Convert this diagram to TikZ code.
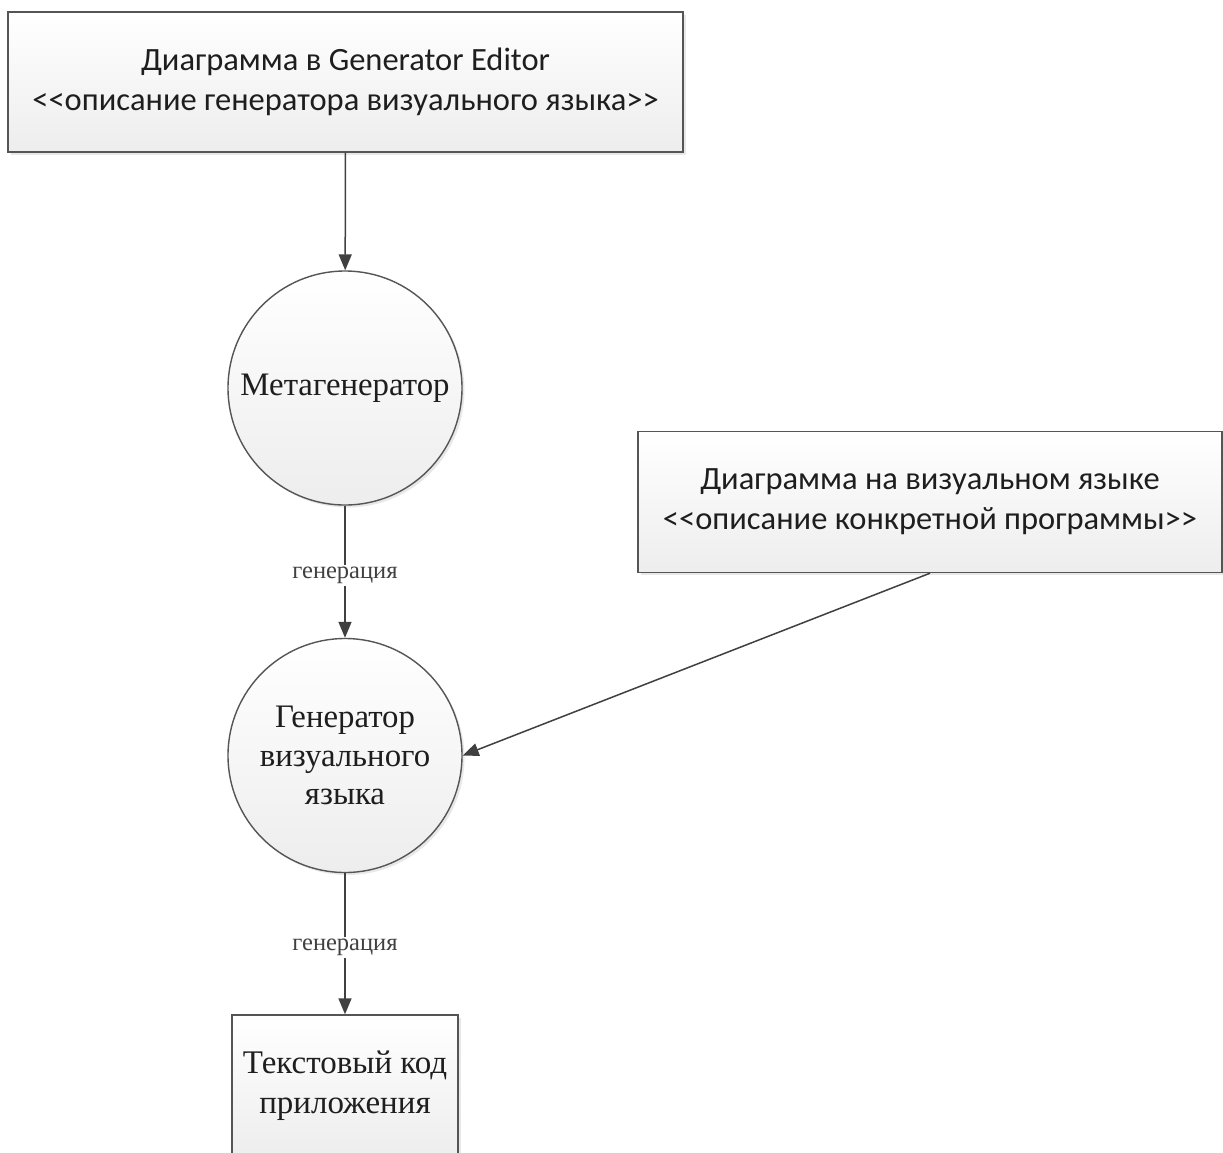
\documentclass[tikz,border=0pt]{standalone}
\usepackage{fontspec}
\setmainfont{Liberation Serif}
\newfontfamily\boxfont{Carlito}
\usetikzlibrary{arrows.meta,shadows}
\definecolor{linec}{HTML}{404040}
\definecolor{edgec}{HTML}{555555}
\definecolor{textc}{HTML}{1E1E1E}
\begin{document}
\begin{tikzpicture}[x=1pt,y=-1pt,
  shapebase/.style={draw=edgec, line width=1.4pt, top color=white, bottom color=black!7,
    drop shadow={opacity=0.18, shadow xshift=2.5pt, shadow yshift=-2.5pt},
    text=textc, align=center, inner sep=0pt},
  procbox/.style={shapebase, rectangle, font=\boxfont\fontsize{32.5}{40}\selectfont},
  codebox/.style={shapebase, rectangle, font=\fontsize{33}{40}\selectfont},
  proccirc/.style={shapebase, circle, minimum size=234pt, font=\fontsize{32.8}{38.5}\selectfont},
  flow/.style={draw=linec, line width=1.5pt, -{Triangle[length=16pt,width=13pt]}},
  lbl/.style={fill=white, text=linec, font=\fontsize{24.5}{28}\selectfont, inner sep=2pt, yshift=-4pt}
]
\useasboundingbox (0,0) rectangle (1223,1152);
\clip (0,0) rectangle (1223,1152);
\fill[white] (0,0) rectangle (1223,1152);

\node[procbox, minimum width=675pt, minimum height=140pt] (ged) at (345.5,82)
  {Диаграмма в Generator Editor\\<<описание генератора визуального языка>>};
\node[proccirc] (meta) at (345,388) {Метагенератор};
\node[proccirc] (vl) at (345,755.5) {Генератор\\визуального\\языка};
\node[procbox, minimum width=584pt, minimum height=141pt] (vis) at (930,502)
  {Диаграмма на визуальном языке\\<<описание конкретной программы>>};
\node[codebox, minimum width=226pt, minimum height=142pt] (code) at (345,1086)
  {Текстовый код\\приложения};

\draw[flow] (ged) -- (meta);
\draw[flow] (meta) -- node[lbl] (l1) {генерация} (vl);
\draw[flow] (vl) -- node[lbl] (l2) {генерация} (code);
\draw[flow] (vis.south) -- (vl.east);
\end{tikzpicture}
\end{document}
